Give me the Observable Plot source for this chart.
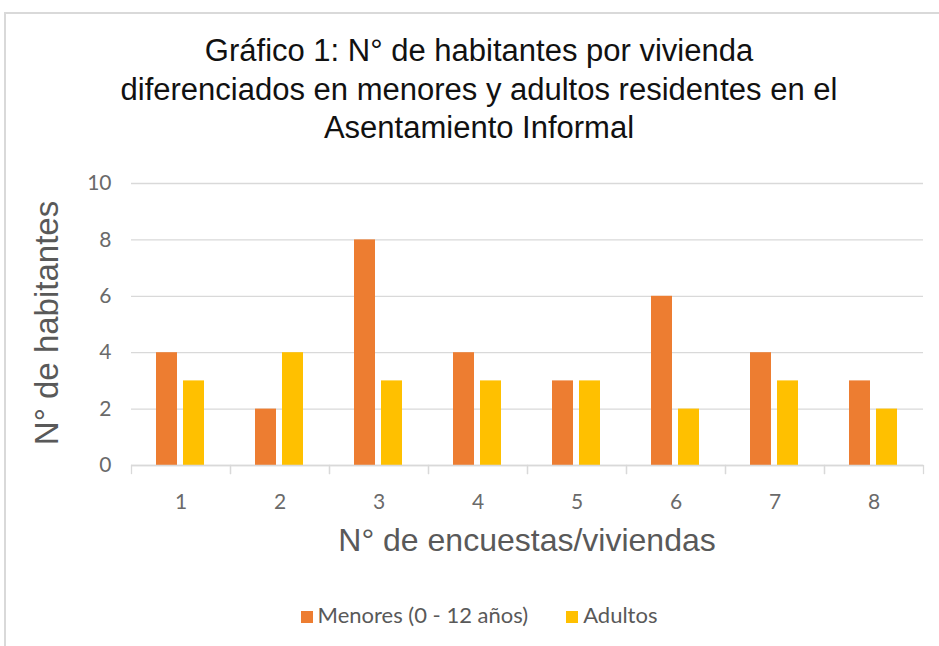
<!DOCTYPE html>
<html><head><meta charset="utf-8">
<script src="https://cdn.jsdelivr.net/npm/d3@7"></script>
<script src="https://cdn.jsdelivr.net/npm/@observablehq/plot@0.6"></script>
<style>
body{margin:0;background:#fff;}
#wrap{position:relative;width:939px;height:646px;overflow:hidden;background:#fff;}
#border{position:absolute;left:4px;top:12px;width:960px;height:700px;border:2px solid #d9d9d9;box-sizing:border-box;}
#title{position:absolute;left:0;width:958px;top:32px;text-align:center;font-family:"Liberation Sans",Arial,sans-serif;font-size:31px;line-height:38.5px;color:#111;}
#ytitle{position:absolute;left:47px;top:323px;transform:translate(-50%,-50%) rotate(-90deg);white-space:nowrap;font-family:"Liberation Sans",Arial,sans-serif;font-size:33px;color:#595959;}
#xtitle{position:absolute;left:527px;top:540px;transform:translate(-50%,-50%);white-space:nowrap;font-family:"Liberation Sans",Arial,sans-serif;font-size:32px;color:#595959;}
#legend{position:absolute;left:0;width:958px;top:601px;text-align:center;font-family:Lato,"Open Sans",sans-serif;font-size:22px;color:#595959;}
#legend span.item{margin:0 19px;}
#legend span.sw{display:inline-block;width:12px;height:12px;margin-right:5px;vertical-align:0px;}
#chart{position:absolute;left:0;top:160px;}
</style>
</head><body>
<div id="wrap">
<div id="border"></div>
<div id="title">Gráfico 1: N° de habitantes por vivienda<br>diferenciados en menores y adultos residentes en el<br>Asentamiento Informal</div>
<div id="chart"></div>
<div id="ytitle">N° de habitantes</div>
<div id="xtitle">N° de encuestas/viviendas</div>
<div id="legend"></div>
</div>
<script>
const categories = ["1","2","3","4","5","6","7","8"];
const seriesNames = ["Menores (0 - 12 años)", "Adultos"];
const menores = [4, 2, 8, 4, 3, 6, 4, 3];
const adultos = [3, 4, 3, 3, 3, 2, 3, 2];
const yTicks = [0, 2, 4, 6, 8, 10];
const colors = ["#ED7D31", "#FFC000"];

const data = [];
categories.forEach((c, i) => {
  data.push({cat: c, serie: seriesNames[0], value: menores[i]});
  data.push({cat: c, serie: seriesNames[1], value: adultos[i]});
});

const height = 400;
const plotBottom = 305; // y of zero inside svg
const chart = Plot.plot({
  width: 939,
  height: height,
  marginLeft: 131,
  marginRight: 16,
  marginTop: 23,
  marginBottom: height - plotBottom,
  style: {fontFamily: 'Lato, "Open Sans", sans-serif', color: "#595959", background: "transparent"},
  fx: {domain: categories, padding: 0, label: null},
  x: {domain: seriesNames, paddingInner: 0.214, paddingOuter: 0.875, axis: null},
  y: {domain: [0, 10], label: null},
  color: {domain: seriesNames, range: colors},
  marks: [
    Plot.gridY(yTicks, {stroke: "#d9d9d9", strokeOpacity: 1, strokeWidth: 1.3}),
    Plot.axisY(yTicks, {tickSize: 0, tickPadding: 20, fontSize: 21, fill: "#6a6a6a", label: null}),
    Plot.barY(data, {fx: "cat", x: "serie", y: "value", fill: "serie"}),
    Plot.frame({anchor: "left", insetTop: plotBottom - 23, insetBottom: -8, stroke: "#d9d9d9", strokeWidth: 1.3}),
    Plot.frame({anchor: "right", insetTop: plotBottom - 23, insetBottom: -8, stroke: "#d9d9d9", strokeWidth: 1.3}),
    Plot.ruleY([0], {stroke: "#d9d9d9", strokeWidth: 1.5}),
    Plot.axisFx({anchor: "bottom", tickSize: 0, tickPadding: 29, fontSize: 21, fill: "#6a6a6a", label: null})
  ]
});
document.getElementById("chart").appendChild(chart);

const legend = document.getElementById("legend");
seriesNames.forEach((s, i) => {
  const item = document.createElement("span");
  item.className = "item";
  const sw = document.createElement("span");
  sw.className = "sw";
  sw.style.background = colors[i];
  item.appendChild(sw);
  item.appendChild(document.createTextNode(s));
  legend.appendChild(item);
});
</script>
</body></html>
